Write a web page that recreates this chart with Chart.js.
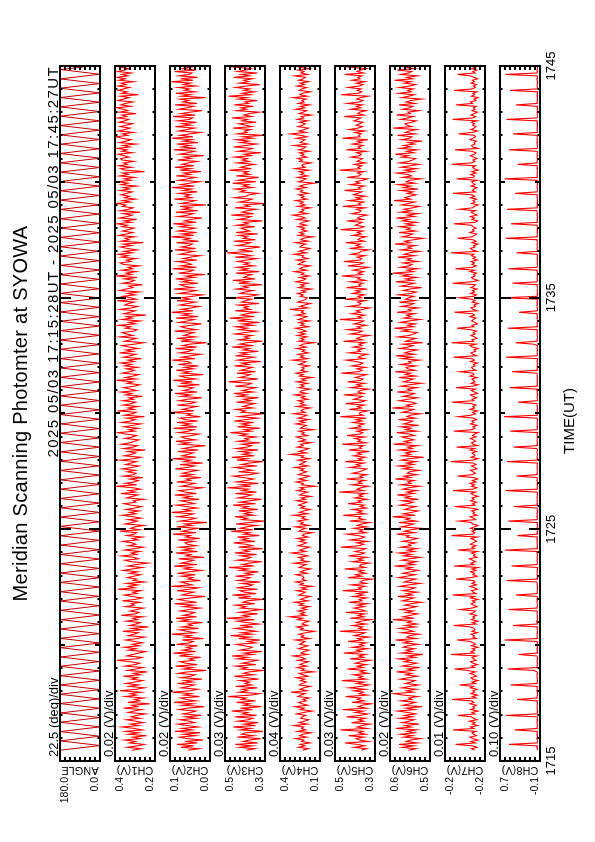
<!DOCTYPE html>
<html><head><meta charset="utf-8">
<script src="https://cdn.jsdelivr.net/npm/chart.js@4.4.0/dist/chart.umd.min.js"></script>
<style>
html,body{margin:0;padding:0;background:#fff;width:595px;height:842px;overflow:hidden;}
#rot{position:absolute;left:0;top:0;width:842px;height:595px;transform-origin:0 0;transform:translate(0,842px) rotate(-90deg);}
#rot canvas{position:absolute;left:0;top:0;}
</style></head><body><div id="rot"></div><script>
// ---------- texts ----------
const titleText = 'Meridian Scanning Photomter at SYOWA';
const subtitleText = '2025 05/03 17:15:28UT - 2025 05/03 17:45:27UT';
const xAxisTitle = 'TIME(UT)';
// ---------- panels ----------
const channelNames = ['ANGLE','CH1(V)','CH2(V)','CH3(V)','CH4(V)','CH5(V)','CH6(V)','CH7(V)','CH8(V)'];
const divLabels = ['22.5 (deg)/div','0.02 (V)/div','0.02 (V)/div','0.03 (V)/div','0.04 (V)/div','0.03 (V)/div','0.02 (V)/div','0.01 (V)/div','0.10 (V)/div'];
const topLabels = ['180.0','0.4','0.1','0.5','0.4','0.5','0.6','-0.2','0.7'];
const bottomLabels = ['0.0','0.2','0.0','0.3','0.1','0.3','0.5','-0.2','-0.1'];
const yMax = [180, 0.38, 0.14, 0.54, 0.42, 0.54, 0.64, -0.16, 0.70];
const yMin = [0, 0.22, -0.02, 0.30, 0.10, 0.30, 0.48, -0.24, -0.10];
const yDivisions = 8;
// series below: ANGLE in degrees, CH1-CH8 in millivolts
const unitToAxis = [1, 0.001, 0.001, 0.001, 0.001, 0.001, 0.001, 0.001, 0.001];
// ---------- time axis (minutes after 17:00 UT) ----------
const timeStart = 15 + 28/60;   // 17:15:28
const timeEnd = 45 + 27/60;     // 17:45:27
const axisMin = 15, axisMax = 45;
const timeTickValues = [15, 25, 35, 45];
const timeTickLabels = ['1715', '1725', '1735', '1745'];

// ---------- series ----------
const angle = [
180,0,180,2,178,0,180,0,176,0,180,4,180,0,179,0,180,0,180,3,
177,0,180,0,180,1,180,0,175,0,180,0,180,5,180,0,178,0,180,2,
180,0,180,0,177,0,180,3,180,0,180,0,176,0,180,1,179,0,180,0,
180,4,180,0,178,0,180,0,180,2,177,0,180,0,180,0,180,3,176,0,
180,0,179,0,180,5,180,0,180,0,178,0,180,2,180,0,177,0,180,0,
180,1,180,0,176,0,180,3,180,0,179,0,180,0,180,4,178,0,180,0,
180,2,177,0,180,0,180,0,180,3,176,0,180,0,179,0,180,1,180,0,
178,0,180,0,180,2,177,0,180,0];
const ch1 = [
312,276,331,289,263,322,298,341,280,309,254,326,286,337,271,303,352,284,318,266,297,334,279,315,
293,258,327,305,273,345,290,312,241,329,282,301,265,339,294,318,276,360,297,262,324,287,336,300,
269,314,291,347,278,305,251,330,296,268,341,300,281,318,372,293,272,333,309,285,257,326,297,343,
283,311,270,302,338,292,261,327,304,287,349,275,313,246,321,297,279,336,290,309,268,355,299,284,
320,293,266,339,303,315,280,351,298,272,312,343,291,309,277,368,301,326,288,334,262,307,294,331,
304,278,322,290,347,310,270,329,296,248,318,340,286,305,353,293,315,280,342,301,267,327,297,311,
349,289,310,271,333,303,294,361,281,318,301,264,340,313,291,328,276,306,351,296,321,283,336,300,
274,317,344,297,306,265,334,311,289,357,298,325,278,309,375,293,339,303,287,322,268,347,305,296,
331,299,350,311,283,337,316,295,358,305,277,343,313,297,329,258,346,308,290,354,320,302,285,340,
310,293,336,368,302,325,287,345,308,276,353,317,298,334,262,342,311,296,370,304,328,289,347,315,
297,348,306,324,270,337,313,356,294,318,345,302,281,331,309,374,296,338,307,285,351,320,303,335,
290,341,314,357,303,328,274,346,319,297,362,308,336,288,323,352,301,265,342,317,295,360,309,333,
351,305,292,338,317,366,298,326,280,352,311,334,256,345,320,300,359,314,289,341,327,303,371,295,
318,349,299,330,285,361,337,308,324,270,350,316,302,343,292,376,313,335,296,354,309,328,283,347,
359,316,334,295,355,327,368,310,344,291,331,358,314,346,267,355,323,340,302,364,333,309,351,326,
304,352,330,373,315,344,293,362,331,312,347,280,358,325,308,351,337,375,319,349,298,342,322,356,
333,311,360,322,346,294,355,328,369,316,343,301,361,327,349,262,340,357,313,365,330,345,305,352,
358,324,345,367,310,352,332,372,321,348,297,362,337,316,354,376,329,350,306,366,341,320,359,334,
310,363,341,325,370,333,351,295,361,328,346,374,317,356,338,308,368,347,324,359,286,353,331,366,
346,322,367,336,355,306,364,340,373,329,352,315,369,343,324,360,377,338,356,312,363,341,327,351];
const ch2 = [
68,24,97,45,112,30,81,8,74,101,38,86,19,120,52,93,27,70,108,41,63,99,33,79,
15,88,57,36,104,71,2,90,48,125,35,76,98,22,84,55,131,60,28,95,66,43,110,50,
82,12,96,58,40,107,69,-5,85,49,118,31,77,100,44,64,17,103,59,127,37,89,53,73,
29,114,62,47,92,6,80,56,133,39,72,102,25,94,51,67,10,99,61,116,34,87,58,42,
98,65,20,86,46,122,33,78,106,57,0,91,70,44,112,61,26,135,52,75,97,18,68,49,
93,38,111,63,14,83,55,124,32,96,66,45,105,3,76,58,117,30,88,51,101,35,71,80,
43,108,21,77,59,129,36,92,64,28,113,53,81,-8,99,60,37,110,69,46,134,56,85,31,
73,115,42,67,97,23,86,57,121,34,79,104,50,11,95,65,40,113,58,74,16,102,48,90,
61,30,119,70,41,100,9,84,57,130,36,92,68,47,109,27,87,56,-2,98,63,117,39,78,
94,52,25,106,66,45,126,32,89,59,112,29,80,101,18,72,55,135,44,91,64,34,111,58,
37,103,71,13,95,57,120,31,86,63,47,109,22,98,50,128,38,79,100,7,88,60,115,46,
82,26,107,56,69,131,40,93,58,17,102,67,48,118,33,90,62,-6,97,55,113,39,85,66,
45,122,35,74,96,57,14,104,68,43,116,27,89,60,134,48,94,55,24,101,70,38,112,59,
92,51,10,105,65,36,124,49,83,99,28,91,57,118,42,76,1,106,63,46,129,34,97,55,
69,111,32,87,58,19,102,73,44,120,37,95,64,51,114,26,84,60,135,45,93,33,107,71,
40,99,61,127,35,82,57,12,108,67,47,117,29,90,56,100,-4,96,64,39,123,53,80,60,
103,30,88,54,133,43,97,62,21,106,70,38,115,58,85,16,101,57,121,44,92,66,31,110,
56,83,5,102,67,41,125,36,94,60,112,27,88,53,132,48,99,61,18,105,72,42,119,57,
91,34,109,63,50,128,39,96,58,12,104,71,45,120,32,89,65,101,-3,94,57,116,40,82,
62,107,37,86,58,135,48,98,29,103,64,52,122,35,92,60,22,110,70,44,118,56,88,63];
const ch3 = [
410,361,452,377,478,343,431,395,326,466,369,440,418,312,447,386,490,358,425,340,463,399,372,481,
350,435,404,500,375,446,322,428,391,470,357,442,414,521,383,333,456,405,437,347,475,380,420,393,
451,338,412,484,368,430,395,308,444,409,476,355,438,387,345,465,403,497,371,426,318,449,398,376,
427,471,356,404,330,458,392,506,379,441,352,416,480,373,448,337,407,467,364,530,397,432,344,454,
388,323,446,415,477,362,433,406,310,460,386,495,353,424,449,345,472,401,374,438,328,463,412,390,
476,379,418,340,452,403,515,367,436,394,320,467,408,385,445,350,481,397,429,315,459,376,414,488,
360,441,401,466,334,427,390,502,372,448,410,348,474,395,306,439,406,479,366,425,383,457,342,436,
403,492,357,450,394,321,461,413,380,478,351,437,400,525,384,447,339,470,411,369,431,489,391,346,
459,377,422,482,349,441,396,313,468,406,499,364,433,387,451,341,473,409,381,438,330,462,398,420,
354,448,407,508,383,425,332,466,394,440,368,484,414,345,457,392,309,443,418,475,373,432,402,362,
470,386,428,339,461,410,487,370,437,397,355,479,405,382,518,424,343,453,415,388,467,358,445,408,
375,483,398,439,326,464,417,366,476,402,447,341,430,393,496,369,452,409,317,458,396,423,378,480,
421,352,455,406,474,373,434,333,465,399,512,364,442,412,349,478,389,426,401,460,337,441,414,381,
484,391,343,451,419,371,472,404,432,318,459,396,493,359,427,408,380,475,335,446,402,469,366,425,
395,463,410,348,479,382,433,527,372,450,401,329,468,417,388,486,357,431,406,458,344,474,393,420,
444,362,469,402,428,316,461,411,384,503,368,437,409,352,480,394,422,307,455,404,377,483,414,397,
340,448,419,478,374,432,399,494,356,462,408,338,473,390,427,402,514,381,446,413,363,467,395,436,
406,482,384,425,324,460,403,377,487,415,351,449,397,471,372,434,311,466,407,423,387,491,379,418,
457,353,437,405,498,380,425,394,334,470,412,443,369,484,398,420,347,462,409,519,386,439,360,427,
391,476,411,332,453,400,428,375,489,393,441,346,465,414,383,480,402,319,451,420,392,472,367,431];
const ch4 = [
240,195,272,221,258,180,247,229,296,206,263,236,171,281,214,249,232,310,200,268,225,190,254,242,
214,286,233,162,259,227,301,198,244,270,210,237,185,276,252,219,331,204,261,230,177,266,241,209,
255,222,289,196,238,268,151,249,225,283,207,260,234,193,277,218,246,315,202,253,229,187,272,236,
198,263,241,219,297,183,251,230,268,212,145,257,236,284,201,244,226,190,279,239,342,214,258,221,
274,209,247,186,265,233,303,197,255,227,178,270,240,218,288,206,249,165,262,235,294,212,243,228,
236,292,203,258,224,176,267,245,211,306,194,253,231,272,199,248,326,215,261,227,184,275,238,207,
261,219,283,195,242,230,160,268,249,214,298,188,256,235,277,203,246,221,313,197,264,232,179,255,
223,270,238,205,289,216,251,174,264,241,200,282,227,259,138,247,233,290,208,267,220,186,273,244,
207,256,229,301,196,262,240,213,276,184,250,231,334,209,268,224,191,281,237,254,171,265,217,248,
287,201,245,226,268,153,257,238,210,293,222,263,189,274,234,205,311,219,252,240,178,286,213,259,
232,275,196,249,221,302,207,261,243,180,270,228,256,199,284,214,247,162,265,236,292,204,253,227,
245,188,269,235,213,318,200,257,231,275,194,243,222,287,210,262,239,147,271,226,255,203,280,218,
266,211,242,297,192,254,228,268,183,273,237,206,289,219,248,232,341,198,260,225,175,277,241,213,
203,258,234,279,215,246,168,271,226,253,199,292,238,214,265,187,250,229,304,207,263,240,180,274,
252,221,286,197,243,233,307,210,268,224,181,259,247,216,296,193,255,236,158,272,229,263,205,248,
224,275,209,261,237,190,284,218,251,318,200,266,231,245,176,277,220,258,234,295,206,249,227,270,
193,257,240,290,211,264,226,149,273,238,212,281,198,254,230,267,188,300,219,246,235,172,262,241,
278,206,250,228,265,185,272,233,214,309,196,258,240,221,287,204,253,336,210,269,225,192,276,237,
217,263,196,282,231,249,170,268,236,207,294,222,257,183,274,229,245,212,315,201,260,238,178,266,
244,208,285,225,259,190,270,234,216,302,199,251,229,276,187,262,240,155,279,222,255,211,288,233];
const ch5 = [
383,351,425,362,404,480,340,392,414,366,458,355,396,373,508,348,407,379,330,441,368,399,357,470,
391,343,418,371,493,352,401,377,322,437,365,405,386,476,346,395,370,427,358,455,382,337,410,367,
499,354,398,375,431,341,390,362,466,372,406,350,419,384,328,450,368,397,356,487,381,409,345,436,
366,393,353,461,376,404,336,424,387,360,512,349,397,374,434,355,413,383,324,448,367,402,361,475,
357,386,426,364,406,346,455,378,395,351,432,369,408,340,494,382,399,359,442,352,390,373,318,463,
381,417,355,398,369,483,358,393,385,334,437,373,404,348,459,388,363,420,379,356,505,396,366,410,
344,447,384,362,401,468,353,394,371,428,349,407,380,331,452,364,399,386,490,359,404,377,433,352,
389,365,462,382,403,347,422,375,397,355,515,369,408,384,339,440,379,401,360,471,374,391,350,435,
394,372,351,450,387,412,366,478,376,401,358,429,383,406,335,457,381,393,368,496,353,402,386,421,
362,467,390,374,409,348,444,385,399,365,433,378,414,354,509,371,395,388,342,454,382,404,363,476,
387,357,427,396,375,487,368,403,389,338,445,380,410,361,464,388,372,417,385,350,502,397,378,408,
356,439,390,373,413,472,364,400,383,346,455,387,404,367,431,378,396,359,489,374,408,386,336,448,
397,375,466,385,405,352,425,390,369,511,381,402,362,441,387,412,373,333,458,393,384,405,357,480,
380,402,363,435,389,416,347,471,386,397,372,447,358,404,390,498,377,401,368,429,385,340,462,394,
370,487,390,380,408,358,443,395,385,337,453,377,413,387,476,365,402,392,354,434,383,406,372,507,
391,366,419,398,378,469,373,405,388,348,439,394,383,412,361,492,386,399,369,457,381,414,356,430,
401,379,482,387,400,363,448,391,415,375,345,467,396,384,405,366,513,388,402,379,424,357,408,390,
376,443,392,383,411,352,472,387,401,371,435,380,407,343,495,390,398,383,420,362,454,402,375,413,
393,373,427,403,385,484,366,404,391,353,445,386,412,376,466,394,372,409,388,341,503,399,380,406,
384,460,395,372,412,360,438,389,402,378,481,368,407,387,352,451,393,384,415,365,490,401,376,398];
const ch6 = [
566,536,590,545,604,530,575,557,518,585,549,598,541,572,533,617,555,580,524,592,563,543,603,550,
582,537,568,609,541,576,512,588,560,538,597,552,565,529,586,624,547,574,535,593,561,526,579,556,
540,599,566,531,577,553,614,544,571,521,590,561,533,583,557,606,539,568,508,595,552,575,542,587,
569,527,585,556,618,535,573,562,523,594,546,566,603,539,579,531,570,554,628,543,587,559,529,577,
547,596,563,534,581,558,515,590,567,544,609,551,574,531,588,556,540,601,565,520,583,561,537,606,
573,539,588,559,528,577,553,622,543,570,534,593,563,519,586,555,605,542,571,532,597,557,566,538,
590,555,530,574,564,613,541,583,557,514,595,567,546,604,535,576,561,630,539,587,553,528,581,562,
536,600,569,547,592,526,579,559,611,544,572,533,589,565,521,597,556,568,543,619,558,584,532,571,
561,524,587,555,606,546,574,535,595,566,505,590,558,578,540,602,551,569,530,626,557,582,544,567,
592,542,563,613,533,577,556,597,525,585,562,549,607,538,572,559,518,591,564,545,630,554,574,536,
551,603,568,530,588,558,542,611,555,570,532,596,561,514,587,565,546,604,537,578,557,619,541,569,
576,536,597,557,565,522,592,552,616,543,581,561,531,600,568,548,588,509,577,558,537,608,563,546,
531,590,559,623,546,569,539,598,564,519,585,556,573,540,612,555,566,527,594,560,545,603,539,578,
565,544,605,555,535,587,561,513,595,568,543,617,550,578,533,590,558,629,546,571,529,599,564,552,
588,529,571,556,609,540,583,562,522,597,554,569,538,620,559,581,546,507,591,565,549,604,537,574,
558,601,545,577,533,590,563,614,542,571,527,598,556,584,550,523,594,566,541,624,557,580,561,536,
571,548,597,528,586,558,607,539,575,562,516,590,554,569,612,546,580,535,596,560,524,602,565,550,
537,593,566,619,545,573,531,600,557,586,542,567,512,594,561,552,610,540,578,563,533,627,553,572,
580,554,535,597,569,546,614,559,568,525,590,562,548,604,540,576,558,514,593,565,543,606,555,570,
547,603,561,538,583,556,622,549,574,530,597,566,553,611,541,579,560,521,592,563,536,616,554,568];
const ch7 = [
-219,-213,-224,-215,-181,-221,-212,-226,-216,-210,-223,-217,-214,-222,-176,-218,-211,-225,-215,-220,-209,-224,-217,-213,
-186,-220,-214,-226,-211,-219,-216,-223,-210,-218,-213,-174,-222,-215,-225,-212,-219,-216,-224,-211,-217,-189,-221,-214,
-226,-215,-212,-223,-218,-210,-221,-205,-179,-219,-213,-225,-216,-211,-222,-217,-214,-224,-172,-218,-212,-220,-215,-226,
-213,-221,-217,-210,-184,-223,-216,-219,-212,-225,-214,-220,-218,-211,-177,-222,-215,-226,-213,-219,-216,-223,-210,-218,
-221,-191,-214,-224,-217,-212,-220,-215,-226,-211,-219,-175,-222,-216,-213,-225,-218,-210,-223,-214,-220,-217,-182,-212,
-224,-216,-219,-211,-222,-214,-226,-178,-218,-212,-221,-215,-209,-224,-217,-220,-213,-225,-186,-219,-214,-222,-211,-216,
-223,-218,-212,-225,-173,-216,-220,-214,-222,-211,-219,-226,-215,-213,-188,-221,-217,-210,-224,-216,-219,-213,-225,-212,
-180,-220,-215,-223,-211,-218,-214,-226,-217,-212,-221,-176,-216,-224,-213,-219,-210,-222,-215,-225,-218,-185,-214,-221,
-216,-211,-224,-219,-213,-222,-217,-171,-215,-226,-212,-220,-218,-214,-223,-210,-219,-183,-225,-216,-213,-221,-217,-211,
-222,-215,-219,-226,-178,-213,-220,-216,-224,-211,-218,-214,-223,-217,-187,-212,-221,-215,-225,-210,-219,-216,-222,-213,
-174,-218,-214,-223,-216,-211,-225,-219,-213,-221,-182,-215,-226,-212,-220,-217,-214,-224,-210,-218,-216,-190,-222,-215,
-213,-220,-217,-225,-211,-219,-214,-177,-223,-216,-212,-221,-218,-226,-215,-210,-222,-173,-217,-214,-224,-219,-212,-220,
-216,-223,-211,-184,-218,-214,-225,-220,-213,-217,-222,-210,-219,-215,-179,-224,-216,-212,-221,-218,-226,-214,-220,-213,
-188,-217,-223,-211,-219,-215,-224,-212,-218,-221,-175,-214,-226,-216,-213,-220,-217,-223,-210,-219,-181,-215,-222,-214,
-219,-212,-225,-216,-221,-213,-218,-172,-224,-215,-211,-220,-217,-226,-214,-222,-216,-185,-213,-219,-223,-210,-218,-215,
-222,-216,-213,-178,-220,-225,-214,-219,-211,-224,-217,-212,-221,-189,-215,-218,-226,-213,-220,-216,-223,-211,-219,-214,
-176,-221,-215,-218,-224,-212,-220,-216,-213,-225,-183,-217,-219,-211,-222,-214,-226,-218,-215,-221,-173,-213,-220,-216,
-224,-217,-211,-219,-222,-214,-180,-226,-215,-213,-220,-218,-223,-210,-216,-221,-219,-187,-214,-225,-212,-218,-222,-215,
-219,-213,-224,-175,-216,-221,-212,-218,-225,-214,-220,-217,-223,-182,-215,-211,-222,-218,-226,-213,-219,-216,-224,-178,
-214,-221,-217,-223,-212,-219,-215,-225,-218,-211,-185,-220,-216,-224,-213,-222,-217,-210,-219,-214,-174,-221,-216,-223];
const ch8 = [
-44,-50,-39,-47,520,-42,-49,-45,-38,-51,-43,-47,-40,-46,410,-48,-41,-52,-44,-39,-47,-43,-50,-45,
580,-41,-48,-44,-50,-39,-46,-43,-51,-42,-47,360,-45,-40,-49,-44,-52,-38,-46,-43,-48,490,-41,-47,
-44,-50,-42,-46,-39,-51,-43,20,550,-48,-41,-45,-52,-40,-47,-44,-49,-38,330,-46,-43,-51,-42,-47,
-45,-40,-48,-43,610,-50,-42,-46,-39,-47,-44,-51,-41,-45,440,-49,-43,-38,-47,-52,-42,-46,-40,-48,
-44,530,-47,-41,-50,-45,-39,-48,-43,-51,-42,380,-46,-40,-49,-44,-47,-52,-41,-45,-38,570,-48,-43,
-50,-42,-46,-39,-47,-44,-51,470,-41,-45,-48,-40,-52,-43,-46,-49,-38,-44,600,-47,-42,-50,-45,-41,
-48,-43,-39,-51,350,-46,-42,-49,-44,-40,-47,-52,-41,-45,540,-43,-50,-38,-46,-42,-48,-44,-51,-40,
420,-47,-43,-50,-41,-46,-39,-48,-44,-52,-42,590,-45,-40,-49,-43,-47,-51,-38,-46,-44,370,-48,-42,
-45,-50,-41,-47,-39,-44,-52,560,-43,-48,-40,-46,-51,-42,-45,-49,-38,430,-47,-43,-50,-41,-46,-44,
-48,-39,-45,-51,500,-42,-47,-43,-50,-40,-46,-44,-52,-41,620,-48,-45,-39,-47,-43,-51,-42,-46,-40,
340,-44,-49,-41,-47,-52,-43,-46,-38,-50,510,-45,-42,-48,-40,-47,-44,-51,-43,-46,-39,460,-49,-42,
-46,-41,-50,-44,-39,-47,-52,580,-43,-48,-45,-40,-51,-42,-46,-49,30,390,-44,-41,-47,-50,-43,-45,
-40,-48,-44,540,-51,-42,-46,-39,-49,-45,-43,-50,-41,-47,320,-44,-52,-40,-46,-43,-48,-38,-45,-51,
600,-42,-47,-44,-50,-41,-46,-49,-39,-45,450,-43,-51,-40,-48,-44,-47,-52,-42,-46,530,-41,-49,-45,
-43,-50,-40,-47,-45,-52,-42,370,-48,-44,-39,-51,-46,-43,-49,-41,-47,590,-45,-40,-50,-44,-48,-42,
-51,-46,-43,480,-49,-40,-47,-44,-52,-42,-48,-45,-39,560,-46,-41,-50,-43,-47,-44,-51,-40,-48,-45,
400,-43,-50,-46,-41,-48,-44,-52,-39,-47,610,-45,-42,-49,-40,-46,-51,-43,-48,-44,350,-47,-41,-50,
-45,-42,-48,-40,-51,-46,520,-43,-49,-44,-47,-39,-52,-41,-46,-48,-43,440,-50,-45,-40,-47,-44,-51,
-42,-48,-45,570,-41,-50,-46,-39,-47,-44,-52,-43,-49,380,-45,-40,-48,-46,-51,-42,-47,-44,-50,500,
-43,-49,-41,-46,-52,-44,-47,-39,-50,-45,590,-42,-48,-40,-46,-51,-43,-47,-44,-49,420,-45,-41,-48];
const series = [angle, ch1, ch2, ch3, ch4, ch5, ch6, ch7, ch8];

// ---------- layout / style ----------
const W = 842, H = 595;
const plotLeft = 81, plotRight = 776;
const firstTop = 60, panelH = 40, panelGap = 15;
const angleColor = '#c80000', traceColor = '#ff0000';
const FONT = '"Liberation Sans", Arial, Helvetica, sans-serif';

function framePlugin(i) {
  return {
    id: 'frame' + i,
    afterDatasetsDraw(chart) {
      const ctx = chart.ctx, a = chart.chartArea, xs = chart.scales.x, ys = chart.scales.y;
      ctx.save();
      ctx.strokeStyle = '#000';
      ctx.fillStyle = '#000';
      ctx.lineWidth = 2;
      for (let m = axisMin + 1; m < axisMax; m++) {
        const px = Math.round(xs.getPixelForValue(m));
        let len = 2.5;
        if (m % 10 === 5) len = 11; else if (m % 5 === 0) len = 5;
        ctx.beginPath();
        ctx.moveTo(px, a.top); ctx.lineTo(px, a.top + len);
        ctx.moveTo(px, a.bottom); ctx.lineTo(px, a.bottom - len);
        ctx.stroke();
      }
      for (let k = 1; k < yDivisions; k++) {
        const v = yMin[i] + k * (yMax[i] - yMin[i]) / yDivisions;
        const py = Math.round(ys.getPixelForValue(v));
        ctx.beginPath();
        ctx.moveTo(a.left, py); ctx.lineTo(a.left + 4, py);
        ctx.moveTo(a.right, py); ctx.lineTo(a.right - 4, py);
        ctx.stroke();
      }
      ctx.strokeRect(a.left, a.top, a.right - a.left, a.bottom - a.top);
      ctx.font = '13px ' + FONT;
      ctx.textAlign = 'left'; ctx.textBaseline = 'alphabetic';
      ctx.fillText(divLabels[i], a.left + 4, a.top - 2);
      ctx.font = '10.5px ' + FONT;
      ctx.textAlign = 'right';
      ctx.fillText(topLabels[i], 65, a.top + 8);
      ctx.fillText(bottomLabels[i], 65, a.bottom - 2);
      ctx.save();
      ctx.translate(72, (a.top + a.bottom) / 2);
      ctx.rotate(-Math.PI / 2);
      ctx.font = '11px ' + FONT;
      ctx.textAlign = 'center'; ctx.textBaseline = 'middle';
      ctx.fillText(channelNames[i], 0, 0);
      ctx.restore();
      if (i === 0) {
        ctx.font = '20px ' + FONT;
        ctx.textAlign = 'center'; ctx.textBaseline = 'alphabetic';
        if ('letterSpacing' in ctx) ctx.letterSpacing = '0.3px';
        ctx.fillText(titleText, (plotLeft + plotRight) / 2, 27);
        ctx.font = '15px ' + FONT;
        ctx.textAlign = 'right';
        if ('letterSpacing' in ctx) ctx.letterSpacing = '1.4px';
        ctx.fillText(subtitleText, plotRight, a.top - 2);
        if ('letterSpacing' in ctx) ctx.letterSpacing = '0px';
      }
      if (i === series.length - 1) {
        ctx.font = '13px ' + FONT;
        ctx.textAlign = 'center'; ctx.textBaseline = 'alphabetic';
        timeTickValues.forEach((t, j) => {
          ctx.fillText(timeTickLabels[j], xs.getPixelForValue(t), a.bottom + 15);
        });
        ctx.font = '15px ' + FONT;
        ctx.fillText(xAxisTitle, 421, 574);
      }
      ctx.restore();
    }
  };
}

const rot = document.getElementById('rot');
series.forEach((values, i) => {
  const top = firstTop + i * (panelH + panelGap);
  const canvas = document.createElement('canvas');
  canvas.width = W; canvas.height = H;
  canvas.style.width = W + 'px'; canvas.style.height = H + 'px';
  rot.appendChild(canvas);
  const step = (timeEnd - timeStart) / (values.length - 1);
  const pts = values.map((v, k) => ({x: timeStart + k * step, y: v * unitToAxis[i]}));
  new Chart(canvas, {
    type: 'line',
    data: {datasets: [{data: pts, borderColor: i === 0 ? angleColor : traceColor, borderWidth: i === 0 ? 1 : 1.1, pointRadius: 0, tension: 0, fill: false}]},
    options: {
      responsive: false, animation: false, devicePixelRatio: 1, events: [],
      layout: {padding: {left: plotLeft, right: W - plotRight, top: top, bottom: H - top - panelH}},
      scales: {
        x: {type: 'linear', min: axisMin, max: axisMax, display: false},
        y: {type: 'linear', min: yMin[i], max: yMax[i], display: false}
      },
      plugins: {legend: {display: false}, tooltip: {enabled: false}, title: {display: false}}
    },
    plugins: [framePlugin(i)]
  });
});
</script></body></html>
